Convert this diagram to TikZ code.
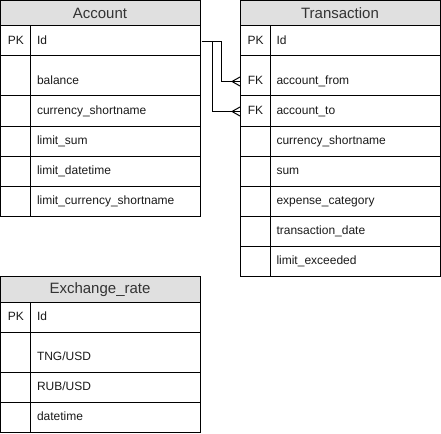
\documentclass[tikz,border=0pt]{standalone}
\usepackage{fontspec}
\setmainfont{Liberation Sans}
\definecolor{hdrfill}{HTML}{E0E0E0}
\definecolor{hdrtxt}{HTML}{333333}
\definecolor{bodytxt}{HTML}{1A1A1A}
\begin{document}
\begin{tikzpicture}[x=1pt,y=-1pt,line width=1pt,
  tline/.style={draw=black,line width=1pt},
  hdrtext/.style={font=\fontsize{15}{18}\selectfont,text=hdrtxt,inner sep=0pt},
  keycell/.style={anchor=north west,minimum width=30pt,minimum height=30pt,inner sep=0pt,
     text height=9pt,text depth=3pt,font=\fontsize{12}{14}\selectfont,text=bodytxt},
  fieldcell/.style={anchor=north west,text width=158pt,inner xsep=6pt,inner ysep=0pt,
     minimum height=30pt,align=left,text height=9pt,text depth=3pt,
     font=\fontsize{12}{14}\selectfont,text=bodytxt},
  conn/.style={draw=black,line width=1pt}]
\useasboundingbox (0,0) rectangle (441,433);
\newcommand\erow[5]{%
  \node[keycell] (#1k) at (#2,#3) {#4};
  \node[fieldcell] (#1f) at (#2+30,#3) {#5};}

% ---------- Account ----------
\fill[hdrfill] (0.5,0.5) rectangle (200,26);
\node[hdrtext] (acc) at (100,13.5) {Account};
\draw[tline] (0.5,0.5) rectangle (200,216);
\foreach \yy in {26,56,96,126,156,186} \draw[tline] (0.5,\yy) -- (200,\yy);
\draw[tline] (30,26) -- (30,216);
\erow{a-id}{0.5}{26}{PK}{Id}
\erow{a-bal}{0.5}{66}{}{balance}
\erow{a-cur}{0.5}{96}{}{currency\_shortname}
\erow{a-ls}{0.5}{126}{}{limit\_sum}
\erow{a-ld}{0.5}{156}{}{limit\_datetime}
\erow{a-lc}{0.5}{186}{}{limit\_currency\_shortname}

% ---------- Transaction ----------
\fill[hdrfill] (240,0.5) rectangle (440,26);
\node[hdrtext] (tr) at (340,13.5) {Transaction};
\draw[tline] (240,0.5) rectangle (440,276);
\foreach \yy in {26,56,96,126,156,186,216,246} \draw[tline] (240,\yy) -- (440,\yy);
\draw[tline] (270,26) -- (270,276);
\erow{t-id}{240}{26}{PK}{Id}
\erow{t-from}{240}{66}{FK}{account\_from}
\erow{t-to}{240}{96}{FK}{account\_to}
\erow{t-cur}{240}{126}{}{currency\_shortname}
\erow{t-sum}{240}{156}{}{sum}
\erow{t-exp}{240}{186}{}{expense\_category}
\erow{t-date}{240}{216}{}{transaction\_date}
\erow{t-lim}{240}{246}{}{limit\_exceeded}

% ---------- Exchange_rate ----------
\fill[hdrfill] (0.5,276) rectangle (200,302);
\node[hdrtext] (ex) at (100,289.5) {Exchange\_rate};
\draw[tline] (0.5,276) rectangle (200,432.5);
\foreach \yy in {302,332,372,402} \draw[tline] (0.5,\yy) -- (200,\yy);
\draw[tline] (30,302) -- (30,432.5);
\erow{e-id}{0.5}{302}{PK}{Id}
\erow{e-tng}{0.5}{342}{}{TNG/USD}
\erow{e-rub}{0.5}{372}{}{RUB/USD}
\erow{e-dt}{0.5}{402}{}{datetime}

% ---------- connectors ----------
\draw[conn] (a-idf.east) -- ++(20,0) |- (t-fromk.west);
\draw[conn] (a-idf.east) -- ++(11,0) |- (t-tok.west);
\draw[conn] (t-fromk.west) ++(0,-4.5) -- ++(-8,4.5) -- ++(8,4.5);
\draw[conn] (t-tok.west) ++(0,-4.5) -- ++(-8,4.5) -- ++(8,4.5);
\end{tikzpicture}
\end{document}
